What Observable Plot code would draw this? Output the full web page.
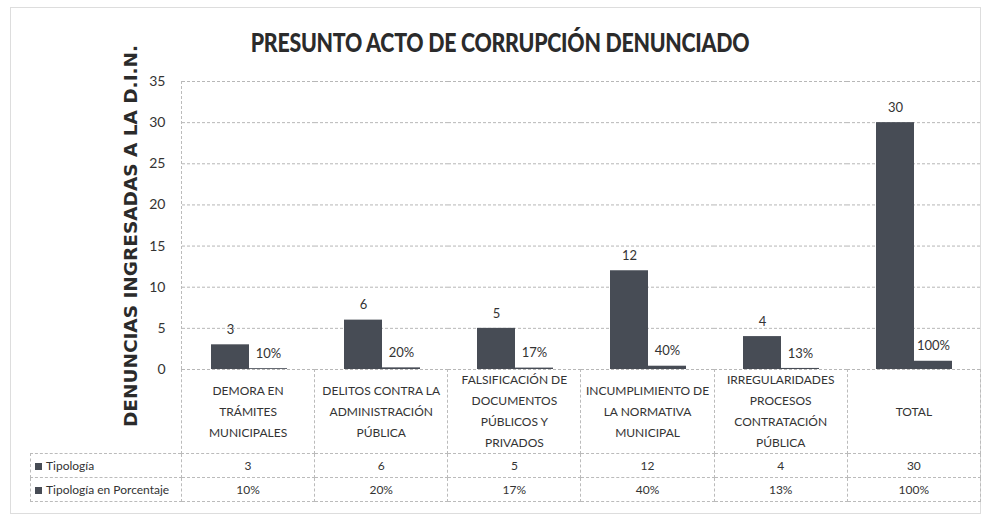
<!DOCTYPE html>
<html>
<head>
<meta charset="utf-8">
<script src="https://cdn.jsdelivr.net/npm/d3@7"></script>
<script src="https://cdn.jsdelivr.net/npm/@observablehq/plot@0.6"></script>
<style>
  html, body { margin: 0; padding: 0; background: #fff; }
  #wrap { position: relative; width: 985px; height: 521px; overflow: hidden; font-family: Lato, "Open Sans", sans-serif; color: #333; }
  #frame { position: absolute; left: 10px; top: 7px; width: 971px; height: 507px; border: 1px solid #ddd; box-sizing: border-box; }
  #title { position: absolute; left: 0; width: 1000px; top: 26px; text-align: center; font-family: Lato, sans-serif; font-weight: 900; font-size: 26px; color: #2b2b2b; letter-spacing: -0.3px; transform: scaleX(0.82); transform-origin: 500px 0; }
  #ylabel { position: absolute; left: 130px; top: 236px; transform: translate(-50%, -50%) rotate(-90deg); white-space: nowrap; font-family: "DejaVu Sans", sans-serif; font-weight: bold; font-size: 18.5px; color: #2b2b2b; }
  #chart { position: absolute; left: 0; top: 0; }
  #leftline { position: absolute; left: 181px; top: 81px; height: 288px; border-left: 1px dashed #bbb; }
  #table { position: absolute; left: 30px; top: 369px; border-collapse: collapse; table-layout: fixed; font-family: Lato, sans-serif; font-size: 12px; color: #333; }
  #table td { border: 1px dashed #bbb; text-align: center; vertical-align: middle; padding: 0; white-space: nowrap; }
  #table tr.cats td { height: 82px; line-height: 21px; border-top: none; }
  #table tr.cats td.blank { border: none; }
  #table tr.row td { height: 23px; }
  #table td.head { text-align: left; padding-left: 4px; }
  .sw { display: inline-block; width: 7px; height: 7px; background: #474c55; margin-right: 4px; vertical-align: 0px; }
</style>
</head>
<body>
<div id="wrap">
  <div id="frame"></div>
  <div id="chart"></div>
  <div id="leftline"></div>
  <div id="title"></div>
  <div id="ylabel"></div>
  <table id="table"></table>
</div>
<script>
const title = "PRESUNTO ACTO DE CORRUPCIÓN DENUNCIADO";
const yLabel = "DENUNCIAS INGRESADAS A LA D.I.N.";
const categories = [
  "DEMORA EN TRÁMITES MUNICIPALES",
  "DELITOS CONTRA LA ADMINISTRACIÓN PÚBLICA",
  "FALSIFICACIÓN DE DOCUMENTOS PÚBLICOS Y PRIVADOS",
  "INCUMPLIMIENTO DE LA NORMATIVA MUNICIPAL",
  "IRREGULARIDADES PROCESOS CONTRATACIÓN PÚBLICA",
  "TOTAL"
];
const categoryLines = [
  ["DEMORA EN", "TRÁMITES", "MUNICIPALES"],
  ["DELITOS CONTRA LA", "ADMINISTRACIÓN", "PÚBLICA"],
  ["FALSIFICACIÓN DE", "DOCUMENTOS", "PÚBLICOS Y", "PRIVADOS"],
  ["INCUMPLIMIENTO DE", "LA NORMATIVA", "MUNICIPAL"],
  ["IRREGULARIDADES", "PROCESOS", "CONTRATACIÓN", "PÚBLICA"],
  ["TOTAL"]
];
const series = ["Tipología", "Tipología en Porcentaje"];
const tipologia = [3, 6, 5, 12, 4, 30];
const porcentaje = [0.10, 0.20, 0.17, 0.40, 0.13, 1.00];
const porcentajeLabels = ["10%", "20%", "17%", "40%", "13%", "100%"];
const yTicks = [0, 5, 10, 15, 20, 25, 30, 35];
const barColor = "#474c55";

const data = categories.flatMap((c, i) => [
  {cat: c, series: series[0], value: tipologia[i], label: String(tipologia[i])},
  {cat: c, series: series[1], value: porcentaje[i], label: porcentajeLabels[i]}
]);

const chart = Plot.plot({
  width: 985,
  height: 369,
  marginTop: 81,
  marginBottom: 0,
  marginLeft: 181,
  marginRight: 5,
  style: {fontFamily: 'Lato, "Open Sans", sans-serif', fontSize: "14px", color: "#333", background: "transparent", overflow: "visible"},
  fx: {domain: categories, padding: 0, axis: null},
  x: {domain: series, paddingInner: 0, paddingOuter: 0.71, axis: null},
  y: {domain: [0, 35]},
  marks: [
    Plot.gridY(yTicks, {stroke: "#999", strokeOpacity: 0.7, strokeDasharray: "3,2"}),
    Plot.axisY(yTicks, {tickSize: 0, tickPadding: 17, label: null, fontSize: 14}),
    Plot.barY(data, {fx: "cat", x: "series", y: "value", fill: barColor}),
    Plot.text(data, {fx: "cat", x: "series", y: "value", text: "label", dy: -15, fontSize: 13, fill: "#333"})
  ]
});
document.getElementById("chart").appendChild(chart);
document.getElementById("title").textContent = title;
document.getElementById("ylabel").textContent = yLabel;

// data table
const table = d3.select("#table");
const colgroup = table.append("colgroup");
colgroup.append("col").style("width", "151px");
categories.forEach(() => colgroup.append("col").style("width", "133.17px"));
const catRow = table.append("tr").attr("class", "cats");
catRow.append("td").attr("class", "blank");
categoryLines.forEach(lines => {
  const td = catRow.append("td");
  lines.forEach((l, j) => { if (j) td.append("br"); td.append("span").text(l); });
});
const r1 = table.append("tr").attr("class", "row");
const h1 = r1.append("td").attr("class", "head");
h1.append("span").attr("class", "sw");
h1.append("span").text(series[0]);
tipologia.forEach(v => r1.append("td").text(v));
const r2 = table.append("tr").attr("class", "row");
const h2 = r2.append("td").attr("class", "head");
h2.append("span").attr("class", "sw");
h2.append("span").text(series[1]);
porcentajeLabels.forEach(v => r2.append("td").text(v));
</script>
</body>
</html>
